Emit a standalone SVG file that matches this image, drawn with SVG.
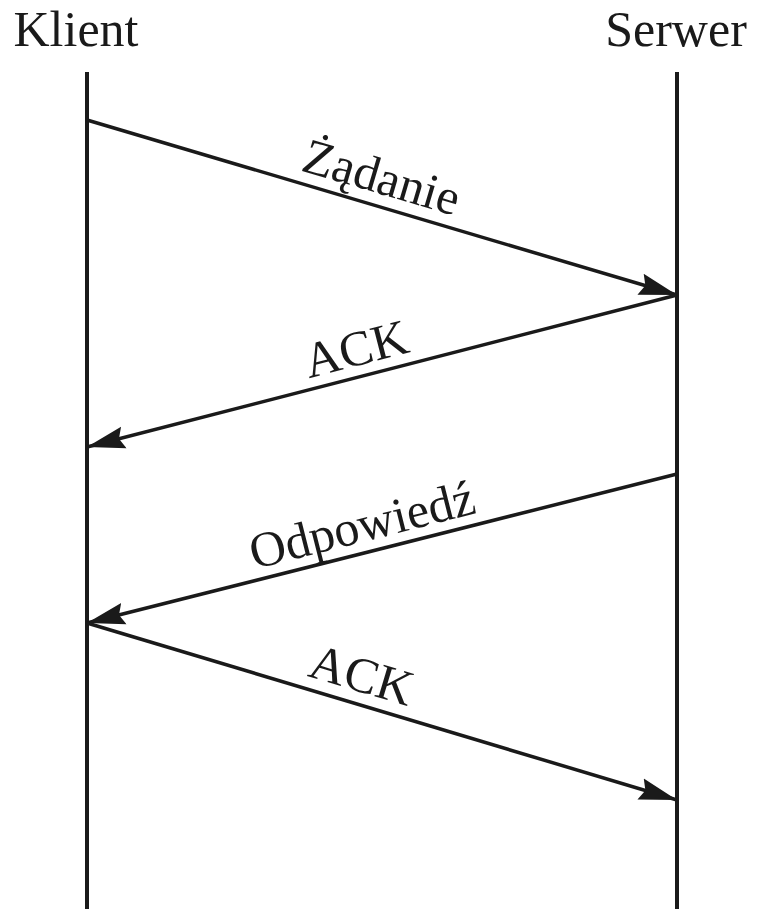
<svg xmlns="http://www.w3.org/2000/svg" width="762" height="909" viewBox="0 0 762 909">
<style>
.t{font-family:"Liberation Serif","Times New Roman",serif;font-size:50px;fill:#1a1a1a}
.l{stroke:#1a1a1a;stroke-width:4;fill:none}
.m{stroke:#1a1a1a;stroke-width:3.5;fill:none;marker-end:url(#ah)}
</style>
<defs>
<marker id="ah" markerUnits="userSpaceOnUse" markerWidth="40" markerHeight="24" refX="38" refY="12" orient="auto">
<path d="M0,1 L38,12 L0,23 L5,12 Z" fill="#1a1a1a"/>
</marker>
</defs>
<g id="klient">
<text class="t" x="76" y="46" text-anchor="middle">Klient</text>
<line class="l" x1="87" y1="72" x2="87" y2="909"/>
</g>
<g id="serwer">
<text class="t" x="676" y="46" text-anchor="middle">Serwer</text>
<line class="l" x1="677" y1="72" x2="677" y2="909"/>
</g>
<g id="connectors">
<line class="m" x1="87" y1="120" x2="677" y2="295"/>
<line class="m" x1="677" y1="295" x2="87" y2="447"/>
<line class="m" x1="677" y1="474" x2="87" y2="623"/>
<line class="m" x1="87" y1="623" x2="677" y2="800"/>
<text class="t" transform="translate(377,193) rotate(16.5)" text-anchor="middle">Żądanie</text>
<text class="t" transform="translate(360,365) rotate(-14.4)" text-anchor="middle">ACK</text>
<text class="t" transform="translate(366,541) rotate(-14.2)" text-anchor="middle">Odpowiedź</text>
<text class="t" transform="translate(357,691) rotate(16.7)" text-anchor="middle">ACK</text>
</g>
</svg>
